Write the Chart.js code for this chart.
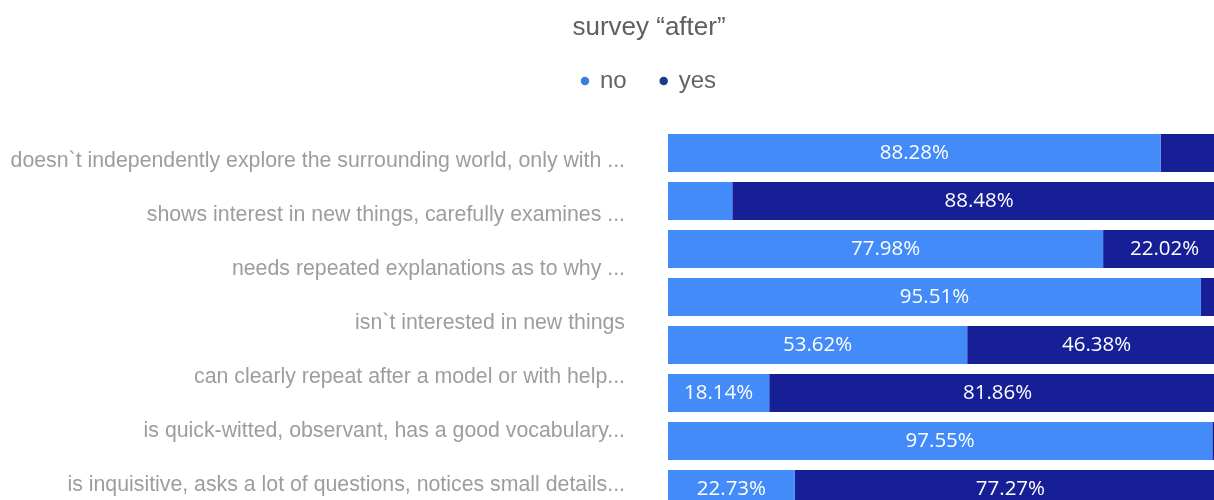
<!DOCTYPE html>
<html>
<head>
<meta charset="utf-8">
<title>survey after</title>
<script src="https://cdn.jsdelivr.net/npm/chart.js@4/dist/chart.umd.min.js"></script>
<style>
  html, body { margin: 0; padding: 0; background: #fff; overflow: hidden; }
  #chart { display: block; }
</style>
</head>
<body>
<canvas id="chart" width="1298" height="520"></canvas>
<script>
const categories = [
  'doesn`t independently explore the surrounding world, only with ...',
  'shows interest in new things, carefully examines ...',
  'needs repeated explanations as to why ...',
  'isn`t interested in new things',
  'can clearly repeat after a model or with help...',
  'is quick-witted, observant, has a good vocabulary...',
  'is inquisitive, asks a lot of questions, notices small details...'
];
const rows = ['1', '2', '3', '4', '5', '6', '7', '8'];
const noValues = [88.28, 11.52, 77.98, 95.51, 53.62, 18.14, 97.55, 22.73];
const yesValues = [11.72, 88.48, 22.02, 4.49, 46.38, 81.86, 2.45, 77.27];
const seriesNames = ['no', 'yes'];

const barColors = ['#428bf8', '#161f96'];
const dotColors = ['#3b7ddd', '#1c3d8c'];
const font = '"Liberation Sans", Arial, sans-serif';

const $chart = document.querySelector('#chart');
const context = $chart.getContext('2d');

// percentage text centred inside each segment that is wide enough
const segmentLabels = {
  id: 'segmentLabels',
  afterDatasetsDraw(chart) {
    const ctx = chart.ctx;
    ctx.save();
    ctx.font = '20.5px "Open Sans"';
    ctx.fillStyle = '#ffffff';
    ctx.textAlign = 'center';
    ctx.textBaseline = 'middle';
    chart.data.datasets.forEach((ds, i) => {
      chart.getDatasetMeta(i).data.forEach((bar, j) => {
        const text = ds.data[j].toFixed(2) + '%';
        const w = Math.abs(bar.x - bar.base);
        if (ctx.measureText(text).width + 24 > w) return;
        ctx.fillText(text, (bar.x + bar.base) / 2, bar.y);
      });
    });
    ctx.restore();
  }
};

// extra room between the legend and the bars
const legendGap = {
  id: 'legendGap',
  beforeInit(chart) {
    const fit = chart.legend.fit;
    chart.legend.fit = function () {
      fit.bind(chart.legend)();
      this.height += 26;
    };
  }
};

// tick padding should only push labels sideways, not shrink the plot vertically
function noVerticalPadding(scale) {
  scale.paddingTop = 0;
  scale.paddingBottom = 0;
}

new Chart(context, {
  type: 'bar',
  data: {
    labels: rows,
    datasets: [
      { label: seriesNames[0], data: noValues, backgroundColor: barColors[0] },
      { label: seriesNames[1], data: yesValues, backgroundColor: barColors[1] }
    ]
  },
  options: {
    indexAxis: 'y',
    responsive: false,
    animation: false,
    layout: { padding: { left: 0, right: 0, top: 0, bottom: 7 } },
    datasets: {
      bar: { categoryPercentage: 0.7917, barPercentage: 1 }
    },
    scales: {
      x: { stacked: true, min: 0, max: 100, display: false },
      y: {
        stacked: true,
        position: 'right',
        grid: { display: false, drawTicks: false },
        border: { display: false },
        ticks: { display: false, padding: 0 },
        afterFit(scale) {
          scale.width = 72;
          noVerticalPadding(scale);
        }
      },
      // question texts on their own axis, spaced independently of the bars
      questions: {
        type: 'linear',
        axis: 'y',
        position: 'left',
        reverse: true,
        offset: false,
        min: -0.593,
        max: 6.519,
        grid: { display: false, drawTicks: false },
        border: { display: false },
        afterBuildTicks(scale) {
          scale.ticks = categories.map((c, i) => ({ value: i }));
        },
        ticks: {
          padding: 43,
          autoSkip: false,
          color: '#9d9d9d',
          font: { family: font, size: 21.3 },
          callback: (value) => categories[value]
        },
        afterFit(scale) {
          scale.width = 668;
          noVerticalPadding(scale);
        }
      }
    },
    plugins: {
      title: {
        display: true,
        text: 'survey “after”',
        color: '#5f5f5f',
        font: { family: font, size: 26, weight: 'normal', lineHeight: 1 },
        padding: { top: 15, bottom: -6 }
      },
      legend: {
        position: 'top',
        labels: {
          usePointStyle: true,
          pointStyle: 'circle',
          boxWidth: 6,
          boxHeight: 6,
          padding: 34,
          color: '#636363',
          font: { family: font, size: 24 },
          generateLabels(chart) {
            return chart.data.datasets.map((ds, i) => ({
              text: ds.label,
              fillStyle: dotColors[i],
              strokeStyle: dotColors[i],
              lineWidth: 0,
              pointStyle: 'circle',
              fontColor: '#636363',
              datasetIndex: i
            }));
          }
        }
      },
      tooltip: { enabled: false }
    }
  },
  plugins: [segmentLabels, legendGap]
});
</script>
</body>
</html>
